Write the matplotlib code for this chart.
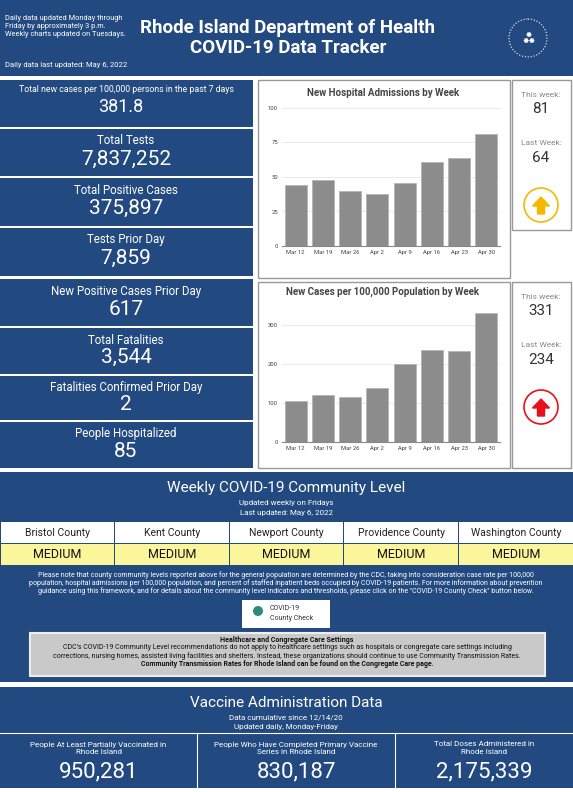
import matplotlib.pyplot as plt
from matplotlib.patches import Rectangle, Circle, FancyArrow

plt.rcParams['font.family'] = ['Roboto', 'DejaVu Sans']

W, H = 573, 792
BLUE = '#234a80'

weeks = ['Mar 12', 'Mar 19', 'Mar 26', 'Apr 2', 'Apr 9', 'Apr 16', 'Apr 23', 'Apr 30']
admissions = [44, 48, 40, 38, 46, 61, 64, 81]
cases_per_100k = [105, 121, 115, 139, 200, 237, 233, 331]

stat_labels = ['Total new cases per 100,000 persons in the past 7 days', 'Total Tests',
               'Total Positive Cases', 'Tests Prior Day', 'New Positive Cases Prior Day',
               'Total Fatalities', 'Fatalities Confirmed Prior Day', 'People Hospitalized']
stat_values = ['381.8', '7,837,252', '375,897', '7,859', '617', '3,544', '2', '85']

counties = ['Bristol County', 'Kent County', 'Newport County', 'Providence County', 'Washington County']
levels = ['MEDIUM'] * 5

vax_labels = ['People At Least Partially Vaccinated in\nRhode Island',
              'People Who Have Completed Primary Vaccine\nSeries in Rhode Island',
              'Total Doses Administered in\nRhode Island']
vax_values = ['950,281', '830,187', '2,175,339']

fig = plt.figure(figsize=(W / 100, H / 100), dpi=100)
bg = fig.add_axes([0, 0, 1, 1])
bg.set_xlim(0, W)
bg.set_ylim(H, 0)
bg.axis('off')


def box(x, y, w, h, fc, ec='none', lw=0):
    bg.add_patch(Rectangle((x, y), w, h, facecolor=fc, edgecolor=ec, linewidth=lw))


def txt(x, y, s, size, color='white', **kw):
    kw.setdefault('ha', 'center')
    kw.setdefault('va', 'center')
    bg.text(x, y, s, fontsize=size, color=color, **kw)


# header
box(0, 0, W, 76, BLUE)
txt(5, 27, 'Daily data updated Monday through\nFriday by approximately 3 p.m.\nWeekly charts updated on Tuesdays.',
    5.3, ha='left', linespacing=1.2)
txt(5, 65, 'Daily data last updated: May 6, 2022', 5.5, ha='left')
txt(288, 38, 'Rhode Island Department of Health\nCOVID-19 Data Tracker', 13.5, weight='bold', linespacing=1.15)
bg.add_patch(Circle((528, 38), 19, facecolor='none', edgecolor='white', lw=0.8, ls=':'))
txt(528, 39, '⁂', 13, weight='bold')

# left stat boxes
tops = [80, 129, 178, 228, 279, 328, 376, 422]
bots = [127, 176, 226, 276, 326, 374, 420, 468]
for i in range(8):
    box(0, tops[i], 253, bots[i] - tops[i], BLUE)
    h = bots[i] - tops[i]
    if i == 0:
        txt(126, tops[i] + 9, stat_labels[i], 6.3)
        txt(121, tops[i] + 27, stat_values[i], 13)
    else:
        txt(126, tops[i] + 12, stat_labels[i], 8.3)
        txt(126, tops[i] + h * 0.64, stat_values[i], 15)

# chart panels
for y0, y1 in [(80, 278), (282, 468)]:
    box(258, y0, 252, y1 - y0, 'white', '#999999', 1)
    box(512, y0, 59, (230 if y0 == 80 else y1) - y0, 'white', '#999999', 1)


def bar_chart(rect, vals, ymax, ticks, title, title_y):
    ax = fig.add_axes([rect[0] / W, 1 - rect[3] / H, (rect[2] - rect[0]) / W, (rect[3] - rect[1]) / H])
    ax.bar(range(len(vals)), vals, width=0.8, color='#8c8c8c', edgecolor='#b5b5b5', linewidth=0.6)
    ax.set_ylim(0, ymax)
    ax.set_xlim(-0.5, len(vals) - 0.5)
    ax.set_yticks(ticks)
    ax.set_xticks(range(len(vals)))
    ax.set_xticklabels(weeks)
    ax.tick_params(labelsize=4.2, length=0, colors='#444444', pad=3)
    ax.grid(axis='y', color='#e6e6e6', lw=0.6)
    ax.set_axisbelow(True)
    for s in ax.spines.values():
        s.set_visible(False)
    ax.spines['bottom'].set_visible(True)
    ax.spines['bottom'].set_color('#888888')
    txt(383, title_y, title, 7, color='#444444', weight='bold')


bar_chart((282, 108, 500, 246), admissions, 100, [0, 25, 50, 75, 100], 'New Hospital Admissions by Week', 93)
bar_chart((282, 302, 500, 442), cases_per_100k, 360, [0, 100, 200, 300], 'New Cases per 100,000 Population by Week', 292)

# right side
for y, tw, this, last, col in [(80, 'This week:', '81', '64', '#f5b800'), (282, 'This week:', '331', '234', '#e8101a')]:
    txt(541, y + 15, tw, 6, color='#888888')
    txt(541, y + 29, this, 11, color='#333333')
    txt(541, y + 63, 'Last Week:', 6, color='#888888')
    txt(541, y + 78, last, 11, color='#333333')
    cy = y + 125
    bg.add_patch(Circle((541, cy), 17, facecolor='white', edgecolor=col, lw=1.2))
    bg.add_patch(FancyArrow(541, cy + 9, 0, -17, width=7, head_width=17, head_length=9,
                            length_includes_head=True, color=col))

# community level
box(0, 472, W, 210, BLUE)
txt(286, 488, 'Weekly COVID-19 Community Level', 11)
txt(286, 503, 'Updated weekly on Fridays', 5.8)
txt(286, 513, 'Last updated: May 6, 2022', 5.8)
cw = W / 5
for i in range(5):
    box(i * cw + 0.5, 522, cw - 1, 21, 'white')
    box(i * cw + 0.5, 544, cw - 1, 21, '#fbf69b')
    txt(i * cw + cw / 2, 533, counties[i], 7.5, color='#222222')
    txt(i * cw + cw / 2, 555, levels[i], 9, color='#111111')
txt(286, 583, 'Please note that county community levels reported above for the general population are determined by the CDC, taking into consideration case rate per 100,000\n'
    'population, hospital admissions per 100,000 population, and percent of staffed inpatient beds occupied by COVID-19 patients. For more information about prevention\n'
    'guidance using this framework, and for details about the community level indicators and thresholds, please click on the "COVID-19 County Check" button below.',
    5.0, linespacing=1.1)
box(242, 600, 88, 28, 'white')
bg.add_patch(Circle((258, 611), 5, facecolor='#2e8b7a'))
txt(270, 608, 'COVID-19', 5, color='#333333', ha='left')
txt(270, 619, 'County Check', 5, color='#333333', ha='left')
box(30, 633, 515, 43, '#c9c9c9', '#eeeeee', 1.5)
txt(287, 640, 'Healthcare and Congregate Care Settings', 5.1, color='#111111', weight='bold')
txt(287, 652, "CDC's COVID-19 Community Level recommendations do not apply to healthcare settings such as hospitals or congregate care settings including\n"
    'corrections, nursing homes, assisted living facilities and shelters. Instead, these organizations should continue to use Community Transmission Rates.',
    5.0, color='#111111', linespacing=1.1)
txt(287, 664, 'Community Transmission Rates for Rhode Island can be found on the Congregate Care page.', 5.0, color='#111111', weight='bold')

# vaccine section
box(0, 687, W, 101, BLUE)
txt(286, 703, 'Vaccine Administration Data', 11)
txt(286, 717, 'Data cumulative since 12/14/20', 5.8)
txt(286, 727, 'Updated daily, Monday-Friday', 5.8)
bg.plot([0, W], [733, 733], color='white', lw=0.8)
vx = [0, 197, 395, W]
for i in range(3):
    if i > 0:
        bg.plot([vx[i], vx[i]], [733, 788], color='white', lw=0.8)
    cx = (vx[i] + vx[i + 1]) / 2
    txt(cx, 748, vax_labels[i], 5.8, linespacing=1.2)
    txt(cx, 772, vax_values[i], 16)

fig.savefig('out.png', dpi=100, facecolor='white')
